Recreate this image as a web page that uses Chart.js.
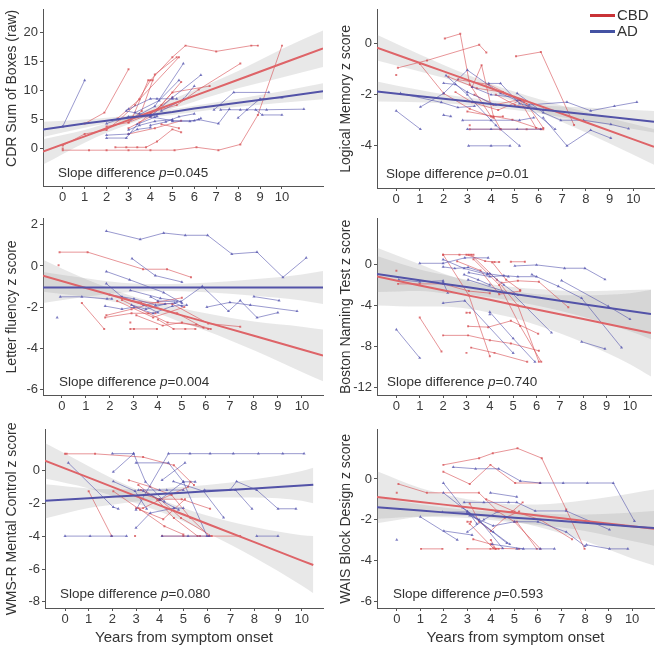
<!DOCTYPE html>
<html>
<head>
<meta charset="utf-8">
<script src="https://cdn.jsdelivr.net/npm/chart.js@4.4.1/dist/chart.umd.min.js"></script>
<style>
  body { margin: 0; background: #fff; width: 658px; height: 647px; position: relative; overflow: hidden;
         font-family: "Liberation Sans", Arial, sans-serif; }
  canvas { position: absolute; }
  .note { position: absolute; font-size: 13.5px; line-height: 16px; color: #333; white-space: nowrap; }
  .leg { position: absolute; font-size: 15px; line-height: 16px; color: #333; }
  .sw { position: absolute; width: 25px; height: 3px; }
</style>
</head>
<body>
<script>
// shared
const xTicks = [0, 1, 2, 3, 4, 5, 6, 7, 8, 9, 10];
const yTitles = ['CDR Sum of Boxes (raw)', 'Logical Memory z score', 'Letter fluency z score',
                 'Boston Naming Test z score', 'WMS-R Mental Control z score', 'WAIS Block Design z score'];
const slopeP = ['0.045', '0.01', '0.004', '0.740', '0.080', '0.593'];
const groups = ['CBD', 'AD'];

// CDR sum of boxes
const cdrTicks = [0, 5, 10, 15, 20];
const cdrCbd = [
  [[0,-0.3],[1.2,-0.3],[2,-0.3],[3,-0.3],[4,-0.3],[5.1,-0.3],[6.1,0.2],[7.1,-0.3],[8.1,0.7],[8.9,5.8],[10,17.8]],
  [[2.4,0.2],[2.9,0.2],[3.4,0.2],[3.8,0.2],[4.3,1.2],[5.0,3.3],[5.4,2.8]],
  [[1,4.3],[1.9,6.2],[3,13.7]],
  [[0,0.5],[1,2.5],[2,3.2],[2.6,5.0],[3.3,7.5],[4.0,11.8],[5.0,15.8],[5.6,17.8],[7.0,16.8],[8.6,17.8],[8.9,17.8]],
  [[3,4.5],[3.6,6.5],[4.2,12.8],[5.2,15.8]],
  [[3.2,5.5],[3.9,11.8],[4.1,11.8]],
  [[2.5,5.2],[3.5,8.5],[5.3,15.8]],
  [[3,3.5],[4,5.5],[5,9.7],[6.7,10.8]],
  [[4,6.2],[5.2,7.5],[6.2,10.2],[8.1,14.7]],
  [[3.5,4.5],[4.5,7.5],[5.4,11.5]],
  [[2,3.8],[3,4.5],[4,6],[5,8.8]],
  [[4.5,4.2],[5.3,3.5]],
  [[3,2.5],[4.2,3.5],[5.4,4.8]],
  [[0,0]]
];
const cdrAd = [
  [[0,3.8],[1,11.8]],
  [[2,2.3],[3,2.5],[3.4,3.3],[4,3.6]],
  [[2,1.8],[2.9,1.8],[3.4,4.2],[4.2,5.4]],
  [[2,4.3],[2.5,5.0],[3,5.5],[4,5.5],[5,4.8],[6,4.8],[6.3,5.2]],
  [[3,6.8],[4,8.6],[4.3,8.6],[5,8.6],[5.2,8.6]],
  [[3.1,5.0],[4.2,7.3],[5.5,14.7]],
  [[3.3,6.2],[4.4,8.3],[5.3,11.8]],
  [[4,5.5],[5,8.8],[6.3,12.7]],
  [[4.5,6.5],[5.5,8.5],[6,10.8]],
  [[5,4.7],[5.8,4.7],[6.2,5.0],[7.1,4.3],[7.6,6.8]],
  [[6.9,6.7],[7.8,9.7],[9.4,9.7]],
  [[8,5.3],[8.4,6.7],[9,8.6],[10,8.8]],
  [[7.2,6.7],[8.1,6.7],[9.3,6.7],[11,6.8]],
  [[8.8,6.7],[9.1,5.8],[10,5.8]],
  [[3,3.2],[3.5,4.0],[4.2,4.7],[5,5.0]],
  [[2.9,6.5],[3.5,6.0],[4.3,5.6]],
  [[4.0,4.0],[4.7,4.6],[5.3,5.5],[6.0,6.0]]
];
const cdrFitX = [-0.9, 1, 2, 3, 4, 5, 6, 8, 10, 11.87];
const cdrCbdFit = [-0.56, 2.1, 3.5, 4.9, 6.3, 7.7, 9.1, 11.9, 14.7, 17.3];
const cdrCbdHi = [1.6, 3.2, 4.3, 5.6, 7.0, 8.5, 10.1, 13.4, 17.2, 20.4];
const cdrCbdLo = [-2.8, 1.0, 2.7, 4.2, 5.6, 6.9, 8.1, 10.4, 12.3, 14.1];
const cdrAdFit = [3.3, 4.3, 4.8, 5.3, 5.8, 6.3, 6.9, 7.9, 8.9, 9.9];
const cdrAdHi = [4.6, 5.0, 5.3, 5.7, 6.2, 6.8, 7.4, 8.6, 9.9, 11.3];
const cdrAdLo = [2.0, 3.6, 4.3, 4.9, 5.4, 5.8, 6.3, 7.2, 7.9, 8.5];

// Logical memory
const memTicks = [-4, -2, 0];
const memCbd = [
  [[0.07,-0.95],[1.3,-0.66],[3.5,-0.05],[3.8,-0.35]],
  [[0,-1.23]],
  [[1,-0.8],[2,-1.95],[3.1,-2.55],[4.1,-2.9]],
  [[2.05,0.2],[2.7,0.38],[3.1,-1.6],[4.0,-2.85],[4.5,-2.85]],
  [[5.05,-0.5],[6.1,-0.33],[7.5,-3.19]],
  [[3.2,-1.7],[3.6,-0.85],[4.1,-2.85],[4.4,-3.35]],
  [[3.1,-3.35],[4.4,-3.35],[5.5,-3.35],[6.2,-3.35]],
  [[3,-2.66],[4.9,-2.98],[6.1,-3.35]],
  [[2.6,-1.41],[3.9,-1.6],[5.4,-2.29]],
  [[2.5,-1.9],[3.2,-2.3],[4.3,-2.6],[5.3,-2.2]],
  [[3.1,-3.2]],
  [[2.2,-1.3],[3.4,-1.75],[4.5,-1.9],[5.5,-2.35],[6.2,-3.3]],
  [[3.3,-2.0],[4.1,-2.4],[5.2,-2.2],[5.9,-3.3]],
  [[4.2,-2.0],[5.0,-2.4],[5.6,-2.5]]
];
const memAd = [
  [[0,-2.63],[1.02,-3.35]],
  [[0.18,-1.95],[1.9,-2.3],[2.6,-2.5],[3.3,-2.45]],
  [[1.02,-2.48],[2.0,-1.95],[3.0,-1.04],[4.4,-1.95],[5.1,-2.23]],
  [[3.05,-4.0],[4.0,-4.0],[4.8,-4.0]],
  [[2.1,-1.25],[3.0,-2.0],[4.2,-3.2],[5.2,-4.0]],
  [[3.0,-3.35],[4.0,-3.35],[5.1,-3.35],[6.1,-3.35]],
  [[2.8,-3.0],[4.0,-3.0],[5.2,-3.0],[5.8,-2.9]],
  [[3.9,-1.56],[4.4,-1.56],[5.2,-2.35],[6.2,-2.6]],
  [[5.1,-1.95],[6.2,-2.7],[6.94,-3.0],[7.9,-3.0],[9.05,-3.16],[9.8,-3.33]],
  [[5.6,-2.4],[7.2,-2.29],[8.2,-2.63],[9.2,-2.45],[10.15,-2.29]],
  [[6.2,-2.9],[7.2,-4.0],[8.2,-3.39],[9.05,-3.7]],
  [[5.2,-2.2],[6.7,-3.35]],
  [[2.0,-1.55],[2.5,-1.6],[3.0,-1.9],[4.2,-2.4]],
  [[2.0,-2.8],[2.3,-2.85]],
  [[3.2,-1.7],[4.0,-2.0],[5.0,-2.1]]
];
const memFitX = [-0.81, 1, 2, 3, 4, 5, 6, 8, 10, 10.87];
const memCbdFit = [-0.16, -0.76, -1.09, -1.42, -1.75, -2.09, -2.42, -3.08, -3.75, -4.04];
const memCbdHi = [0.34, -0.43, -0.84, -1.22, -1.57, -1.89, -2.17, -2.68, -3.15, -3.34];
const memCbdLo = [-0.66, -1.09, -1.34, -1.62, -1.93, -2.29, -2.67, -3.48, -4.35, -4.74];
const memAdFit = [-1.875, -2.06, -2.16, -2.26, -2.36, -2.46, -2.57, -2.77, -2.97, -3.06];
const memAdHi = [-1.48, -1.82, -1.98, -2.11, -2.22, -2.32, -2.41, -2.5, -2.6, -2.64];
const memAdLo = [-2.27, -2.3, -2.34, -2.41, -2.5, -2.6, -2.73, -3.04, -3.34, -3.48];

// Letter fluency
const fluTicks = [-6, -4, -2, 0, 2];
const fluCbd = [
  [[-0.14,0.03]],
  [[-0.1,0.67],[1.07,0.67],[3.38,-0.16],[4.38,-0.16],[5.38,-0.55]],
  [[0.83,-1.8],[1.76,-3.06]],
  [[1.85,-2.4],[2.9,-2.1],[4.0,-1.75],[5.0,-1.55]],
  [[1.8,-2.5],[2.9,-2.3],[3.9,-2.3]],
  [[2.85,-2.75]],
  [[2.85,-3.06],[3.0,-3.06],[3.96,-3.06]],
  [[4.0,-2.6],[4.65,-3.06],[5.14,-3.06],[5.56,-3.06]],
  [[2.9,-1.7],[4.6,-1.85],[6.1,-2.8],[7.43,-2.95]],
  [[3.1,-2.4],[4.2,-2.9],[5.0,-2.75],[6.1,-3.06]],
  [[2.5,-1.65],[3.6,-2.3],[4.4,-2.75],[5.6,-2.85],[6.2,-3.06]],
  [[3.3,-1.8],[4.8,-2.3],[5.9,-3.0]],
  [[2.3,-1.7],[3.8,-2.5],[5.1,-2.0]]
];
const fluAd = [
  [[1.85,1.69],[3.26,1.29],[4.24,1.6],[5.14,1.49],[6.07,1.49],[7.08,0.58],[8.13,0.67],[9.21,-0.55],[10.18,0.39]],
  [[2.92,0.36],[3.89,-0.47],[5.0,-0.78]],
  [[1.85,-0.27],[2.82,-0.67],[4.24,-1.29],[5.0,-1.8]],
  [[-0.07,-1.5],[0.83,-1.5],[1.88,-1.6],[2.08,-1.6]],
  [[-0.2,-2.51]],
  [[1.85,-0.86],[2.5,-1.5],[3.4,-1.9],[4.0,-2.27]],
  [[2.85,-1.18],[4.1,-1.57],[4.96,-1.73],[5.85,-0.99],[6.94,-2.2],[7.43,-1.68],[8.13,-2.51],[9.0,-2.27]],
  [[2.0,-1.4],[3.0,-1.6],[3.9,-1.9],[4.7,-1.8],[5.0,-1.95]],
  [[8.0,-1.49],[9.05,-1.68]],
  [[6.04,-2.0],[7.0,-1.77],[7.85,-1.9],[9.8,-2.2]],
  [[1.8,-1.95],[2.5,-2.1],[3.0,-2.0],[3.8,-2.3],[4.6,-1.95],[5.2,-1.9]],
  [[2.9,-1.9],[3.5,-2.1],[4.3,-1.85]],
  [[3.7,-1.5],[4.0,-1.7],[4.8,-1.75]]
];
const fluFitX = [-0.79, 1, 2, 3, 4, 5, 6, 8, 10, 10.88];
const fluCbdFit = [-0.47, -1.07, -1.40, -1.73, -2.06, -2.40, -2.73, -3.39, -4.06, -4.35];
const fluCbdHi = [0.3, -0.65, -1.1, -1.5, -1.8, -2.05, -2.3, -2.7, -2.95, -3.09];
const fluCbdLo = [-1.25, -1.5, -1.7, -1.95, -2.3, -2.75, -3.15, -4.1, -5.15, -5.6];
const fluAdFit = [-1.05, -1.05, -1.05, -1.05, -1.05, -1.05, -1.05, -1.05, -1.05, -1.05];
const fluAdHi = [-0.3, -0.6, -0.75, -0.85, -0.88, -0.87, -0.82, -0.65, -0.42, -0.25];
const fluAdLo = [-1.8, -1.5, -1.35, -1.25, -1.22, -1.23, -1.28, -1.45, -1.68, -1.85];

// Boston naming
const bntTicks = [-12, -8, -4, 0];
const bntCbd = [
  [[0,-0.63]],
  [[0.07,-1.9],[1.0,-1.9],[2.0,-1.9],[3.1,-2.6],[4.0,-2.8]],
  [[2.0,0.94],[2.7,0.94],[3.1,0.94],[3.3,0.94]],
  [[3.0,0.94],[3.8,0.31],[4.2,0.22],[4.4,0.22]],
  [[4.9,0.25],[5.5,0.25]],
  [[1.0,-5.17],[1.93,-8.46]],
  [[2.0,-6.9],[3.07,-6.9],[4.0,-7.37],[4.9,-7.68],[6.1,-8.4]],
  [[3.0,-4.7],[3.15,-4.7]],
  [[3.07,-6.02],[3.93,-6.1],[4.9,-5.49],[6.07,-6.74]],
  [[3.0,-8.6]],
  [[3.2,-8.09],[4.2,-8.6],[5.6,-9.47]],
  [[2.0,0.94],[3.1,-3.0],[4.0,-8.93]],
  [[3.2,0.94],[4.3,-1.5],[5.2,-4.0],[6.1,-9.47]],
  [[3.3,0.5],[4.4,-2.0],[5.3,-6.0],[6.2,-9.47]],
  [[4.1,0.2],[4.7,-1.5],[5.3,-2.5]],
  [[4.5,-1.8],[5.2,-1.6],[6.1,-1.7],[7.36,-4.17]],
  [[2.6,0.3],[3.6,-0.6],[4.4,-2.9],[5.3,-2.6]]
];
const bntAd = [
  [[1.0,0.1],[2.0,0.1],[2.93,0.63],[3.93,0.63]],
  [[2.0,0.47],[2.9,-0.4],[3.9,-1.0]],
  [[2.0,-0.25],[2.5,-0.4],[3.07,-0.3],[3.9,-0.9],[4.8,-1.2]],
  [[0,-6.33],[1.0,-9.09]],
  [[2.0,-3.76],[2.93,-3.54],[5.0,-8.62]],
  [[4.0,-4.64],[5.0,-7.2],[5.93,-9.47]],
  [[4.0,-4.86]],
  [[5.07,-0.16],[6.0,-0.06],[7.2,-0.38],[8.07,-0.38],[8.93,-1.47]],
  [[3.07,-1.5],[5.0,-2.9],[6.64,-6.64]],
  [[2.0,-1.72],[2.2,-2.76]],
  [[5.8,-1.0],[6.93,-2.13],[7.93,-3.29],[9.64,-8.09]],
  [[7.07,-1.57],[9.07,-4.07],[10.0,-5.33]],
  [[7.93,-7.52],[8.93,-8.21]],
  [[0.1,-1.5],[1.0,-1.7],[2.0,-1.6]],
  [[3.1,-0.8],[4.0,-1.2],[4.6,-1.1],[5.2,-1.2],[6.0,-1.2]],
  [[4.0,-0.9],[4.6,-2.0],[5.2,-3.0]],
  [[2.9,-1.0],[3.5,-1.5],[4.0,-2.0]]
];
const bntFitX = [-0.83, 1, 2, 3, 4, 5, 6, 8, 10, 10.9];
const bntCbdFit = [-1.19, -2.05, -2.52, -2.99, -3.45, -3.92, -4.39, -5.32, -6.26, -6.68];
const bntCbdHi = [1.6, 0.0, -0.9, -1.6, -2.2, -2.6, -2.9, -3.0, -2.8, -2.5];
const bntCbdLo = [-4.0, -4.1, -4.1, -4.3, -4.7, -5.2, -5.9, -7.6, -9.7, -10.9];
const bntAdFit = [-0.94, -1.55, -1.88, -2.21, -2.54, -2.87, -3.2, -3.87, -4.53, -4.83];
const bntAdHi = [0.8, -0.5, -1.0, -1.5, -1.9, -2.2, -2.4, -2.6, -2.5, -2.45];
const bntAdLo = [-2.7, -2.6, -2.8, -2.9, -3.2, -3.55, -4.0, -5.1, -6.5, -7.27];

// WMS-R mental control
const wmsTicks = [-8, -6, -4, -2, 0];
const wmsCbd = [
  [[0,1.0],[0.07,1.0],[1.27,1.0],[3.3,0.8],[4.6,0.3],[5.45,-0.9]],
  [[1.0,-1.27],[1.97,-4.0]],
  [[2.04,-1.27],[3.17,-2.4],[4.15,-2.97],[5.07,-1.76]],
  [[2.96,-4.0]],
  [[4.1,-4.0],[5.0,-4.0],[5.7,-4.0],[6.06,-4.0],[7.4,-4.0]],
  [[3.4,-1.5],[4.0,-1.76],[4.93,-1.76],[6.13,-2.34]],
  [[3.1,-0.9],[3.9,-1.8],[4.6,-2.9],[5.6,-4.0]],
  [[3.0,-2.3],[3.3,-2.3],[4.0,-1.8],[5.2,-1.0],[5.3,-0.7]],
  [[2.7,-0.6],[3.6,-1.0],[4.5,-1.5],[5.3,-2.9],[6.1,-4.0]],
  [[4.0,-1.75],[4.9,-2.9],[6.2,-4.0]],
  [[3.2,-1.2],[4.0,-1.8]],
  [[3.1,-2.3],[4.2,-3.4],[5.0,-3.9]]
];
const wmsAd = [
  [[3.0,-2.4],[4.37,1.01],[5.28,1.01],[6.13,1.01],[7.11,1.01],[8.17,1.01],[9.2,1.01],[10.1,1.01]],
  [[0.14,0.45],[2.04,-2.24],[2.25,-2.34]],
  [[2.0,1.01],[2.9,1.01],[3.4,-0.7],[4.2,-1.9]],
  [[2.04,-0.1],[2.9,1.01]],
  [[2.04,-0.68],[2.96,-1.27],[3.45,-2.34]],
  [[3.0,0.45],[4.37,0.45],[5.0,-0.7],[5.5,-0.7]],
  [[4.1,-0.6],[5.07,0.45]],
  [[0,-4.0],[1.06,-4.0],[1.97,-4.0],[2.6,-4.0]],
  [[4.1,-4.0],[5.2,-4.0],[6.1,-4.0]],
  [[8.1,-4.0],[9.0,-4.0]],
  [[4.58,-0.68],[5.85,-1.27],[6.7,-2.87]],
  [[5.9,-1.2],[6.97,-1.2],[7.25,-0.68],[8.1,-1.2],[9.0,-2.34],[9.76,-2.34]],
  [[7.2,-1.2],[7.9,-2.34]],
  [[3.0,-3.5],[3.6,-2.6],[4.6,-2.3],[5.0,-2.3]],
  [[3.1,-1.2],[4.0,-1.2],[4.3,-1.2],[5.0,-1.2]],
  [[4.0,-1.8],[5.0,-0.7],[6.0,-4.0]],
  [[3.3,-1.25],[4.8,-2.4]]
];
const wmsFitX = [-0.85, 1, 2, 3, 4, 5, 6, 8, 10, 10.49];
const wmsCbdFit = [0.59, -0.45, -1.01, -1.57, -2.13, -2.69, -3.25, -4.37, -5.49, -5.76];
const wmsCbdHi = [1.66, 0.25, -0.5, -1.15, -1.75, -2.3, -2.75, -3.45, -3.95, -4.0];
const wmsCbdLo = [-0.5, -1.1, -1.55, -2.0, -2.5, -3.1, -3.8, -5.3, -7.0, -7.47];
const wmsAdFit = [-1.85, -1.70, -1.61, -1.53, -1.44, -1.36, -1.27, -1.10, -0.93, -0.88];
const wmsAdHi = [-0.85, -1.1, -1.15, -1.15, -1.1, -1.0, -0.9, -0.55, -0.05, 0.16];
const wmsAdLo = [-2.93, -2.3, -2.1, -1.9, -1.8, -1.7, -1.65, -1.65, -1.85, -2.0];

// WAIS block design
const waisTicks = [-6, -4, -2, 0];
const waisCbd = [
  [[1.98,0.69],[3.5,1.02],[4.08,1.26],[5.13,1.5],[6.16,1.02],[7.2,-1.5],[7.98,-3.43]],
  [[1.98,0.35],[3.1,-0.25],[3.98,0.69],[5.03,-0.2],[6.09,-0.2]],
  [[0.07,-0.25],[1.28,-0.68],[3.49,-0.68],[4.3,-1.6],[5.0,-2.1],[6.1,-3.43]],
  [[0,-0.68]],
  [[1.03,-3.43],[1.94,-3.43]],
  [[3.0,-3.43],[3.98,-3.43],[4.33,-3.43]],
  [[3.0,-2.1],[3.15,-2.1]],
  [[4.2,-1.58],[4.9,-1.6],[5.35,-1.15]],
  [[3.8,-1.0],[5.0,-1.6],[6.1,-2.0],[7.45,-2.96]],
  [[5.1,-2.1],[5.95,-3.43]],
  [[3.25,-2.96],[4.0,-3.2],[4.2,-3.43]],
  [[3.1,-1.2],[3.5,-2.1],[4.0,-2.55],[4.6,-1.9],[5.2,-1.6]],
  [[3.1,-2.2],[4.1,-3.4],[5.2,-3.43]],
  [[4.0,-3.0],[4.2,-3.43]]
];
const waisAd = [
  [[0,-2.99]],
  [[1.0,-1.86],[2.57,-2.99]],
  [[1.98,-0.2],[2.8,-1.4],[3.5,-2.0],[4.5,-3.4]],
  [[1.98,-0.68],[3.0,-1.6],[4.1,-2.6],[4.8,-3.2]],
  [[2.4,0.58],[3.35,0.5],[4.33,0.5],[5.25,-0.1],[6.09,-0.2],[7.07,-0.2],[8.1,-0.2],[9.2,-0.2],[10.1,-2.07]],
  [[3.98,-0.68],[5.1,-0.88]],
  [[2.86,-1.15],[3.7,-1.15],[4.75,-1.15],[5.1,-1.15],[5.88,-1.57],[7.2,-1.57],[9.04,-2.49]],
  [[1.94,-1.62],[3.0,-1.62],[4.68,-3.15]],
  [[2.0,-2.55],[3.2,-2.75]],
  [[4.05,-3.2],[5.38,-3.43]],
  [[5.1,-3.43],[6.1,-3.43],[6.7,-3.43]],
  [[8.06,-3.23],[9.04,-3.43],[9.82,-3.43]],
  [[3.0,-2.6],[3.7,-2.0],[4.3,-1.6]],
  [[3.1,-1.8],[4.1,-2.3],[5.0,-2.1],[6.0,-2.1],[7.2,-2.6],[8.0,-3.3]],
  [[3.1,-1.7],[3.4,-2.2]]
];
const waisFitX = [-0.84, 1, 2, 3, 4, 5, 6, 8, 10, 10.94];
const waisCbdFit = [-0.88, -1.13, -1.26, -1.39, -1.52, -1.66, -1.79, -2.06, -2.32, -2.45];
const waisCbdHi = [0.38, -0.45, -0.75, -1.0, -1.15, -1.25, -1.25, -1.05, -0.7, -0.52];
const waisCbdLo = [-2.17, -1.85, -1.8, -1.8, -1.9, -2.1, -2.35, -3.05, -3.9, -4.25];
const waisAdFit = [-1.39, -1.55, -1.64, -1.72, -1.81, -1.9, -1.98, -2.15, -2.33, -2.41];
const waisAdHi = [-0.9, -1.25, -1.4, -1.52, -1.6, -1.66, -1.7, -1.75, -1.65, -1.57];
const waisAdLo = [-1.95, -1.85, -1.88, -1.92, -2.02, -2.14, -2.26, -2.55, -3.05, -3.28];

// colours
const RED_LINE = 'rgba(214, 78, 82, 0.75)';
const BLUE_LINE = 'rgba(78, 78, 172, 0.72)';
const RED_FIT = '#de6468';
const BLUE_FIT = '#5353a8';
const BAND = 'rgba(140, 140, 140, 0.2)';
const AXIS = '#555';

// panel layout: plot box [left, top, right, bottom] in page pixels
const panels = [
  { cbd: cdrCbd, ad: cdrAd, fx: cdrFitX, cf: cdrCbdFit, ch: cdrCbdHi, cl: cdrCbdLo, af: cdrAdFit, ah: cdrAdHi, al: cdrAdLo,
    yt: cdrTicks, xr: [-0.9, 11.87], yr: [-6.5, 24], box: [43, 3, 323, 186], yw: 43, pt: 3, pr: 4, xh: 24, note: [58, 173], tAlign: 'end' },
  { cbd: memCbd, ad: memAd, fx: memFitX, cf: memCbdFit, ch: memCbdHi, cl: memCbdLo, af: memAdFit, ah: memAdHi, al: memAdLo,
    yt: memTicks, xr: [-0.81, 10.87], yr: [-5.65, 1.32], box: [377, 2, 655, 188], yw: 43, pt: 2, pr: 3, xh: 24, note: [386, 174] },
  { cbd: fluCbd, ad: fluAd, fx: fluFitX, cf: fluCbdFit, ch: fluCbdHi, cl: fluCbdLo, af: fluAdFit, ah: fluAdHi, al: fluAdLo,
    yt: fluTicks, xr: [-0.79, 10.88], yr: [-6.27, 2.29], box: [43, 213, 323, 395], yw: 43, pt: 4, pr: 4, xh: 24, note: [59, 382] },
  { cbd: bntCbd, ad: bntAd, fx: bntFitX, cf: bntCbdFit, ch: bntCbdHi, cl: bntCbdLo, af: bntAdFit, ah: bntAdHi, al: bntAdLo,
    yt: bntTicks, xr: [-0.83, 10.9], yr: [-12.69, 4.42], box: [377, 213, 651, 395], yw: 43, pt: 4, pr: 4, xh: 24, note: [387, 382] },
  { cbd: wmsCbd, ad: wmsAd, fx: wmsFitX, cf: wmsCbdFit, ch: wmsCbdHi, cl: wmsCbdLo, af: wmsAdFit, ah: wmsAdHi, al: wmsAdLo,
    yt: wmsTicks, xr: [-0.845, 10.9], yr: [-8.37, 2.46], box: [45, 423, 323, 608], yw: 45, pt: 3, pr: 4, xh: 39, note: [60, 594], xTitle: true },
  { cbd: waisCbd, ad: waisAd, fx: waisFitX, cf: waisCbdFit, ch: waisCbdHi, cl: waisCbdLo, af: waisAdFit, ah: waisAdHi, al: waisAdLo,
    yt: waisTicks, xr: [-0.84, 10.93], yr: [-6.33, 2.41], box: [377, 423, 656, 608], yw: 43, pt: 3, pr: 2, xh: 39, note: [393, 594], xTitle: true }
];

const pts = t => t.map(([x, y]) => ({ x, y }));
const along = (xs, ys) => xs.map((x, k) => ({ x, y: ys[k] }));

function traj(t, red) {
  return {
    data: pts(t),
    borderColor: red ? RED_LINE : BLUE_LINE,
    borderWidth: 0.8,
    pointStyle: red ? 'rect' : 'triangle',
    pointRadius: red ? 1.4 : 1.8,
    pointBackgroundColor: red ? RED_LINE : BLUE_LINE,
    pointBorderWidth: 0,
    fill: false
  };
}

function edge(xs, ys, fill) {
  return {
    data: along(xs, ys),
    borderWidth: 0,
    borderColor: 'rgba(0,0,0,0)',
    pointRadius: 0,
    cubicInterpolationMode: 'monotone',
    fill: fill ? '-1' : false,
    backgroundColor: BAND
  };
}

panels.forEach((p, i) => {
  const [L, T, R, B] = p.box;
  const cv = document.createElement('canvas');
  cv.width = p.yw + (R - L) + p.pr;
  cv.height = p.pt + (B - T) + p.xh;
  cv.style.left = (L - p.yw) + 'px';
  cv.style.top = (T - p.pt) + 'px';
  document.body.appendChild(cv);

  const datasets = [
    { data: along(p.fx, p.af), borderColor: BLUE_FIT, borderWidth: 2, pointRadius: 0, fill: false },
    { data: along(p.fx, p.cf), borderColor: RED_FIT, borderWidth: 2, pointRadius: 0, fill: false },
    ...p.ad.map(t => traj(t, false)),
    ...p.cbd.map(t => traj(t, true)),
    edge(p.fx, p.cl, false), edge(p.fx, p.ch, true),
    edge(p.fx, p.al, false), edge(p.fx, p.ah, true)
  ];

  new Chart(cv, {
    type: 'line',
    data: { datasets },
    options: {
      responsive: false,
      animation: false,
      devicePixelRatio: 1,
      events: [],
      layout: { padding: { left: 0, top: p.pt, right: p.pr, bottom: 0 } },
      plugins: {
        legend: { display: false },
        tooltip: { enabled: false },
        filler: { drawTime: 'beforeDatasetsDraw' }
      },
      scales: {
        x: {
          type: 'linear',
          min: p.xr[0], max: p.xr[1],
          afterBuildTicks: s => { s.ticks = xTicks.map(v => ({ value: v })); },
          afterFit: s => { s.height = p.xh; },
          ticks: { color: '#3a3a3a', font: { family: 'Liberation Sans', size: 13 }, padding: 1, maxRotation: 0, autoSkip: false },
          grid: { display: true, drawOnChartArea: false, drawTicks: true, tickLength: 3, color: AXIS },
          border: { display: true, color: AXIS, width: 1 },
          title: { display: !!p.xTitle, text: 'Years from symptom onset', color: '#333',
                   font: { family: 'Liberation Sans', size: 15 }, padding: { top: 0, bottom: 0 } }
        },
        y: {
          min: p.yr[0], max: p.yr[1],
          afterBuildTicks: s => { s.ticks = p.yt.map(v => ({ value: v })); },
          afterFit: s => { s.width = p.yw; },
          ticks: { color: '#3a3a3a', font: { family: 'Liberation Sans', size: 13 }, padding: 2 },
          grid: { display: true, drawOnChartArea: false, drawTicks: true, tickLength: 3, color: AXIS },
          border: { display: true, color: AXIS, width: 1 },
          title: { display: true, text: yTitles[i], color: '#333', align: p.tAlign || 'center',
                   font: { family: 'Liberation Sans', size: 14 }, padding: { top: 4, bottom: 0 } }
        }
      }
    }
  });

  const note = document.createElement('div');
  note.className = 'note';
  note.style.left = p.note[0] + 'px';
  note.style.top = (p.note[1] - 8) + 'px';
  note.innerHTML = 'Slope difference <i>p</i>=' + slopeP[i];
  document.body.appendChild(note);
});

// legend (top right panel)
[[groups[0], '#c93236', 15], [groups[1], '#4452a3', 31]].forEach(([name, col, y]) => {
  const sw = document.createElement('div');
  sw.className = 'sw';
  sw.style.cssText = `left:590px;top:${y - 1.5}px;background:${col}`;
  document.body.appendChild(sw);
  const tx = document.createElement('div');
  tx.className = 'leg';
  tx.style.left = '617px';
  tx.style.top = (y - 8) + 'px';
  tx.textContent = name;
  document.body.appendChild(tx);
});
</script>
</body>
</html>
